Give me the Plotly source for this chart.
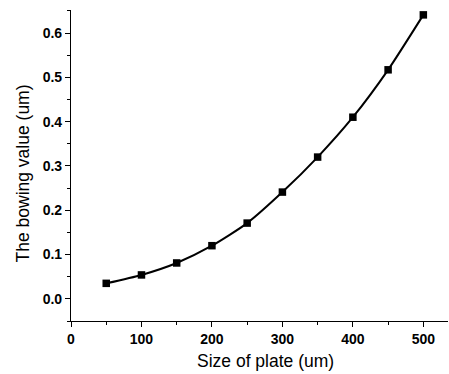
import plotly.graph_objects as go

plate_size = [50, 100, 150, 200, 250, 300, 350, 400, 450, 500]
bowing = [0.035, 0.054, 0.081, 0.120, 0.171, 0.241, 0.320, 0.410, 0.517, 0.641]

x_ticks = [0, 100, 200, 300, 400, 500]
y_ticks = [0.0, 0.1, 0.2, 0.3, 0.4, 0.5, 0.6]

x_title = "Size of plate (um)"
y_title = "The bowing value (um)"

fig = go.Figure()
fig.add_trace(go.Scatter(
    x=plate_size, y=bowing, mode="lines+markers",
    line=dict(color="black", width=2, shape="spline", smoothing=0.6),
    marker=dict(symbol="square", size=7.5, color="black"),
    showlegend=False,
))

font_family = "Liberation Sans, Arial, sans-serif"
title_font = dict(family=font_family, size=17.5, color="black")
axis_common = dict(
    showgrid=False, zeroline=False, showline=True, linecolor="black", linewidth=1.2,
    ticks="outside", ticklen=5, tickwidth=1.2, tickcolor="black",
    tickfont=dict(family=font_family, size=14, color="black", weight="bold"),
)

fig.update_xaxes(
    range=[0, 535], tickvals=x_ticks, ticktext=[str(v) for v in x_ticks],
    minor=dict(dtick=50, tick0=0, ticks="outside", ticklen=3, tickcolor="black", tickwidth=1.2),
    **axis_common,
)
fig.update_yaxes(
    range=[-0.05, 0.652], tickvals=y_ticks, ticktext=[f"{v:.1f}" for v in y_ticks],
    minor=dict(dtick=0.05, tick0=0, ticks="outside", ticklen=3, tickcolor="black", tickwidth=1.2),
    **axis_common,
)

fig.add_annotation(text=x_title, xref="paper", yref="paper", x=0.5146, y=-0.1286,
                   xanchor="center", yanchor="middle", showarrow=False, font=title_font)
fig.add_annotation(text=y_title, xref="paper", yref="paper", x=-0.1247, y=0.4743,
                   xanchor="center", yanchor="middle", textangle=-90, showarrow=False,
                   font=title_font)

fig.update_layout(
    width=449, height=374,
    margin=dict(l=71, r=1, t=10, b=53, autoexpand=False),
    plot_bgcolor="white", paper_bgcolor="white",
)

fig.write_html("out.html", config={"displayModeBar": False},
               post_script="document.body.style.margin='0';")
